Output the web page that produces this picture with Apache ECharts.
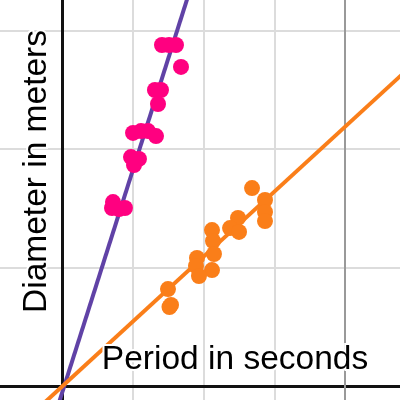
<!DOCTYPE html>
<html>
<head>
<meta charset="utf-8">
<script src="https://cdn.jsdelivr.net/npm/echarts@6/dist/echarts.min.js"></script>
<style>
html,body{margin:0;padding:0;background:#fff;overflow:hidden;width:400px;height:400px}
#c{position:absolute;left:-9px;top:-89px;width:425px;height:595px}
</style>
</head>
<body>
<div id="c"></div>
<script>
// Data (arbitrary grid units: 1 unit = one grid cell)
const pinkX = [1.413, 1.512, 1.611, 1.682, 1.314, 1.399, 1.357, 1.004, 1.117, 1.216, 1.329, 0.975, 1.088, 1.018, 0.721, 0.707, 0.806, 0.890];
const pinkY = [2.877, 2.877, 2.877, 2.692, 2.498, 2.498, 2.380, 2.136, 2.152, 2.152, 2.110, 1.933, 1.917, 1.866, 1.554, 1.504, 1.495, 1.504];
const orangeX = [2.686, 2.869, 2.869, 2.869, 2.488, 2.375, 2.502, 2.120, 2.134, 2.148, 1.908, 1.894, 2.120, 1.936, 1.498, 1.541, 1.519];
const orangeY = [1.672, 1.571, 1.470, 1.394, 1.420, 1.335, 1.302, 1.318, 1.226, 1.116, 1.083, 1.015, 0.981, 0.931, 0.821, 0.687, 0.670];
// Fitted lines y = slope * (x - xIntercept)
const purpleSlope = 1.877, purpleXInt = 0.03;
const orangeSlope = 0.547, orangeXInt = 0.0;
const lineXRange = [-1, 5];
const majorGridX = 4;
const xLabel = 'Period in seconds';
const yLabel = 'Diameter in meters';

const zip = (xs, ys) => xs.map((x, i) => [x, ys[i]]);
const fit = (m, x0) => lineXRange.map(x => [x, m * (x - x0)]);

// the chart box is larger than the window and offset so that the visible
// window shows the same part of the plane as the reference
const offX = 9, offY = 89;

const chart = echarts.init(document.getElementById('c'), null, {renderer: 'canvas'});
const gridLine = {show: true, lineStyle: {color: '#dcdcdc', width: 2}};
chart.setOption({
  animation: false,
  backgroundColor: '#fff',
  grid: {left: 0.25, right: 0.25, top: 0.7, bottom: 0.8, containLabel: false},
  xAxis: {
    type: 'value', min: -1, max: 5, interval: 1,
    axisLine: {show: true, onZero: true, lineStyle: {color: '#111', width: 3}},
    axisTick: {show: false}, axisLabel: {show: false},
    splitLine: gridLine
  },
  yAxis: {
    type: 'value', min: -1, max: 4, interval: 1,
    axisLine: {show: true, onZero: true, lineStyle: {color: '#111', width: 3}},
    axisTick: {show: false}, axisLabel: {show: false},
    splitLine: gridLine
  },
  series: [
    {type: 'line', data: fit(purpleSlope, purpleXInt), showSymbol: false, silent: true, z: 3,
     lineStyle: {color: '#6042a6', width: 4},
     markLine: {silent: true, symbol: 'none', label: {show: false}, z: 1,
       lineStyle: {color: '#999', width: 2, type: 'solid'}, data: [{xAxis: majorGridX}]}},
    {type: 'line', data: fit(orangeSlope, orangeXInt), showSymbol: false, silent: true, z: 4,
     lineStyle: {color: '#fa7e19', width: 4}},
    {type: 'scatter', data: zip(orangeX, orangeY), symbolSize: 16, z: 5,
     itemStyle: {color: '#fa7e19', opacity: 1}},
    {type: 'scatter', data: zip(pinkX, pinkY), symbolSize: 16, z: 6,
     itemStyle: {color: '#ff0080', opacity: 1}}
  ],
  graphic: [
    {type: 'text', x: 235 + offX, y: 359.5 + offY, z: 100,
     style: {text: xLabel, fill: '#000', font: '33.5px "Liberation Sans", Arial, sans-serif',
       align: 'center', verticalAlign: 'middle', stroke: '#fff', lineWidth: 4}},
    {type: 'text', x: 36.5 + offX, y: 171.5 + offY, rotation: Math.PI / 2, z: 100,
     style: {text: yLabel, fill: '#000', font: '33.5px "Liberation Sans", Arial, sans-serif',
       align: 'center', verticalAlign: 'middle', stroke: '#fff', lineWidth: 4}}
  ]
});
</script>
</body>
</html>
